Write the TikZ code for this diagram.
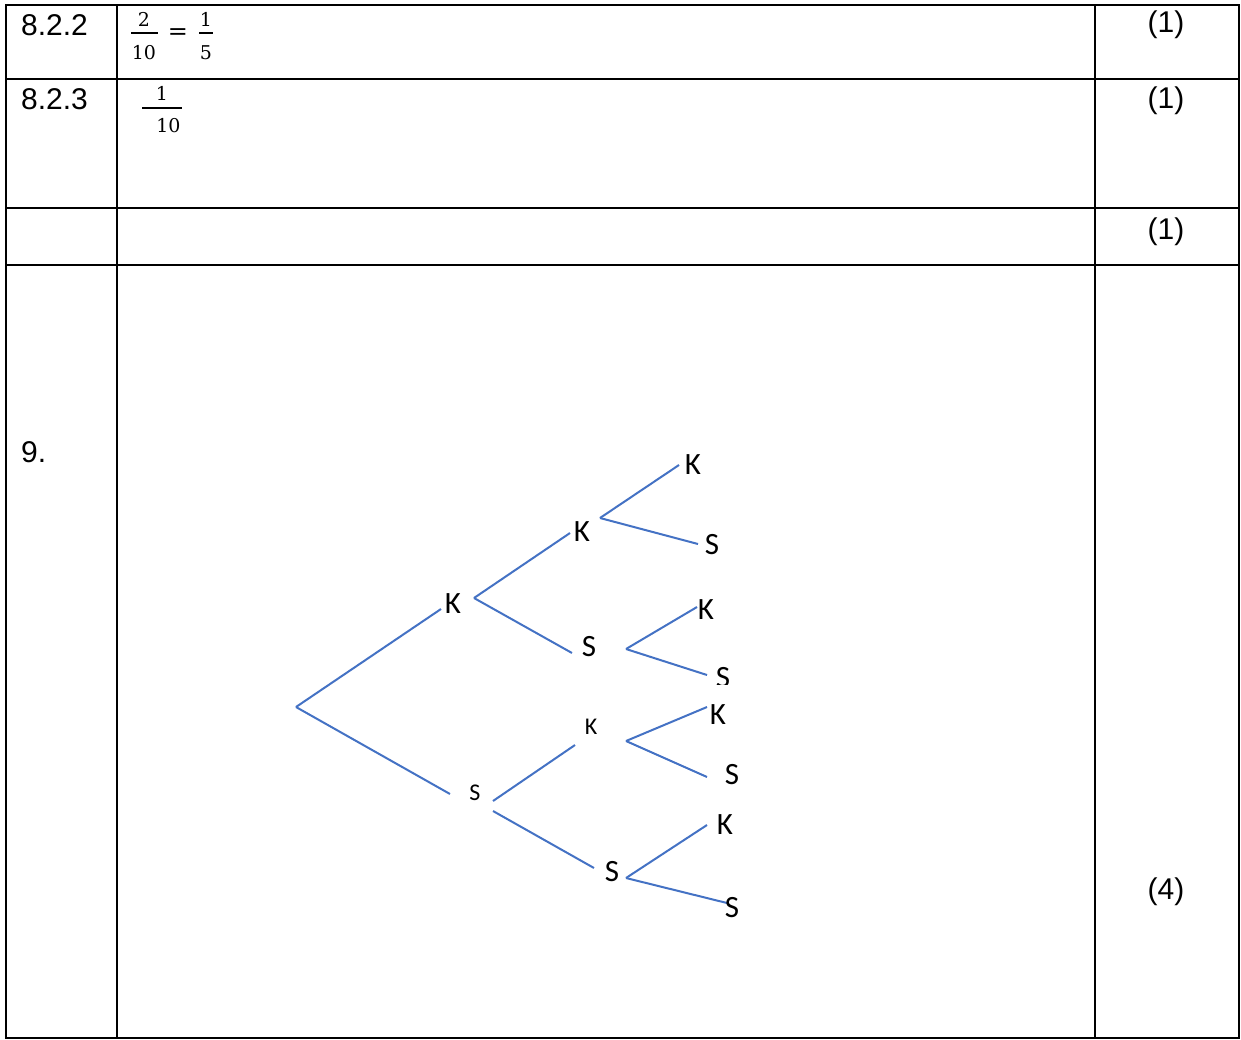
\documentclass[tikz,border=0pt]{standalone}
\usepackage{fontspec}
\setmainfont{Liberation Sans}
\newfontfamily\treefont{Carlito}
\newfontfamily\fracfont{DejaVu Serif}
\definecolor{branchblue}{HTML}{4472C4}
\tikzset{
  rule/.style={line width=2pt},
  cell/.style={anchor=base west, inner sep=0pt, font=\fontsize{30}{36}\selectfont},
  score/.style={anchor=base, inner sep=0pt, font=\fontsize{30}{36}\selectfont},
  digit/.style={inner sep=0pt, font=\fracfont\fontsize{19}{22}\selectfont},
  bar/.style={line width=1.3pt},
  branch/.style={branchblue, line width=2pt},
  bigleaf/.style={inner sep=0pt, font=\treefont\fontsize{31}{36}\selectfont},
  smallleaf/.style={inner sep=0pt, font=\treefont\fontsize{24}{28}\selectfont}
}
\begin{document}
\begin{tikzpicture}[x=1pt,y=-1pt]
  \useasboundingbox (0,0) rectangle (1241,1039);

  % Table
  \draw[rule] (6,5) rectangle (1239,1038);
  \draw[rule] (116.5,5) -- (116.5,1038);
  \draw[rule] (1094.5,5) -- (1094.5,1038);
  \foreach \y in {78.5,207.5,264.5}
    \draw[rule] (6,\y) -- (1239,\y);

  \node[cell] (q822) at (21,35) {8.2.2};
  \node[cell] (q823) at (21,109) {8.2.3};
  \node[cell] (q9) at (21,462) {9.};
  \node[score] (m1) at (1166,32) {(1)};
  \node[score] (m2) at (1166,108) {(1)};
  \node[score] (m3) at (1166,239) {(1)};
  \node[score] (m4) at (1166,899) {(4)};

  % Fractions
  \node[digit] (n1) at (144,19.5) {2};
  \node[digit] (d1) at (144,53) {10};
  \draw[bar] (131,33) -- (158,33);
  \node[digit, font=\fracfont\fontsize{24}{26}\selectfont] (eq) at (178,34) {=};
  \node[digit] (n2) at (206,19.5) {1};
  \node[digit] (d2) at (206,53) {5};
  \draw[bar] (199,33) -- (213,33);
  \node[digit] (n3) at (162,93) {1};
  \node[digit] (d3) at (168.5,126) {10};
  \draw[bar] (142,108) -- (182,108);

  % Tree: branch points
  \coordinate (v0) at (296,707);
  \coordinate (vk) at (474,598);
  \coordinate (vkk) at (600,518);
  \coordinate (vks) at (626,649);
  \coordinate (vsu) at (493,801);
  \coordinate (vsd) at (493,811);
  \coordinate (vsk) at (626,741);
  \coordinate (vss) at (626,878);
  % branch ends
  \coordinate (tk) at (441,609);
  \coordinate (ts) at (450,794);
  \coordinate (tkk) at (570,533);
  \coordinate (tks) at (572,653);
  \coordinate (tkkk) at (679,465);
  \coordinate (tkks) at (698,544);
  \coordinate (tksk) at (697,607);
  \coordinate (tkss) at (707,675);
  \coordinate (tsk) at (575,745);
  \coordinate (tss) at (594,868);
  \coordinate (tskk) at (707,707);
  \coordinate (tsks) at (707,777);
  \coordinate (tssk) at (707,825);
  \coordinate (tsss) at (727,903);

  \foreach \a/\b in {v0/tk, v0/ts, vk/tkk, vk/tks, vkk/tkkk, vkk/tkks,
                     vks/tksk, vks/tkss, vsu/tsk, vsd/tss, vsk/tskk,
                     vsk/tsks, vss/tssk, vss/tsss}
    \draw[branch] (\a) -- (\b);

  % Labels
  \node[bigleaf] (lk) at (453,604) {K};
  \node[smallleaf] (ls) at (475,793) {S};
  \node[bigleaf] (lkk) at (582,532) {K};
  \node[bigleaf] (lks) at (589,647) {S};
  \node[bigleaf] (lkkk) at (693,465) {K};
  \node[bigleaf] (lkks) at (712,545) {S};
  \node[bigleaf] (lksk) at (706,610) {K};
  \begin{scope}
    \clip (700,640) rectangle (760,684);
    \node[bigleaf] (lkss) at (723,678) {S};
  \end{scope}
  \node[smallleaf] (lsk) at (591,727) {K};
  \node[bigleaf] (lss) at (612,872) {S};
  \node[bigleaf] (lskk) at (718,715) {K};
  \node[bigleaf] (lsks) at (732,775) {S};
  \node[bigleaf] (lssk) at (725,825) {K};
  \node[bigleaf] (lsss) at (732,908) {S};
\end{tikzpicture}
\end{document}
